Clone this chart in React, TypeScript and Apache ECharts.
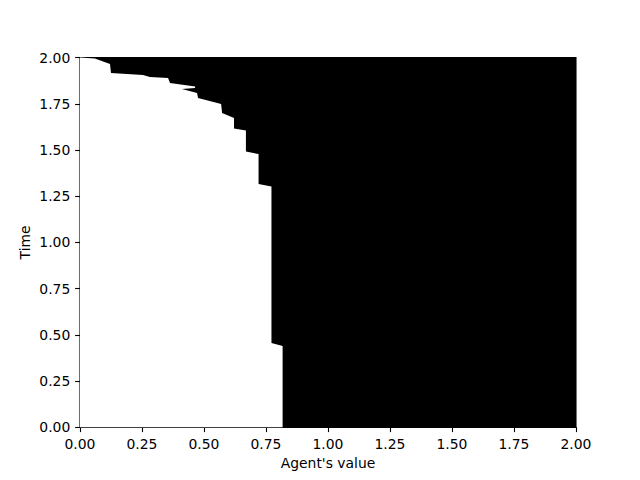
import React, { useEffect, useRef } from "react";
import * as echarts from "echarts";

// Boundary of the white region: agent's value threshold (x) against time (y)
const boundaryValue = [
  0.0, 0.06, 0.121, 0.125, 0.254, 0.282, 0.355, 0.363, 0.464, 0.464, 0.411,
  0.472, 0.476, 0.569, 0.573, 0.621, 0.621, 0.669, 0.669, 0.72, 0.72, 0.772,
  0.772, 0.817, 0.817, 0.0,
];
const boundaryTime = [
  2.0, 1.995, 1.965, 1.917, 1.906, 1.895, 1.89, 1.862, 1.844, 1.835, 1.83,
  1.808, 1.781, 1.749, 1.7, 1.673, 1.616, 1.606, 1.492, 1.478, 1.316, 1.303,
  0.456, 0.439, 0.0, 0.0,
];
const xTicks = [0, 0.25, 0.5, 0.75, 1, 1.25, 1.5, 1.75, 2];
const yTicks = [0, 0.25, 0.5, 0.75, 1, 1.25, 1.5, 1.75, 2];

const FONT = "DejaVu Sans";

export default function App() {
  const ref = useRef<HTMLDivElement>(null);
  useEffect(() => {
    if (!ref.current) return;
    const chart = echarts.init(ref.current, undefined, { renderer: "svg" });
    const pts = boundaryValue.map((v, i) => [v, boundaryTime[i]]);
    const axisCommon = {
      type: "value" as const,
      interval: 0.25,
      splitLine: { show: false },
      axisLine: { show: true, lineStyle: { color: "#000", width: 1.1 } },
      axisTick: { show: true, inside: false, length: 4.9, lineStyle: { color: "#000", width: 1.1 } },
      axisLabel: {
        color: "#000",
        fontFamily: FONT,
        fontSize: 13.9,
        margin: 9.7,
        formatter: (v: number) => v.toFixed(2),
      },
      nameLocation: "middle" as const,
      nameMoveOverlap: false,
      nameTextStyle: { color: "#000", fontFamily: FONT, fontSize: 13.9 },
    };
    chart.setOption({
      animation: false,
      backgroundColor: "#fff",
      grid: {
        left: 80,
        right: 64,
        top: 57.6,
        bottom: 52.8,
        show: true,
        backgroundColor: "#000",
        borderColor: "#000",
        borderWidth: 1.1,
      },
      xAxis: {
        ...axisCommon,
        min: xTicks[0],
        max: xTicks[xTicks.length - 1],
        name: "Agent's value",
        nameGap: 29,
      },
      yAxis: {
        ...axisCommon,
        min: yTicks[0],
        max: yTicks[yTicks.length - 1],
        name: "Time",
        nameGap: 48,
      },
      series: [
        {
          type: "custom",
          coordinateSystem: "cartesian2d",
          data: [[0, 0]],
          renderItem: (_params: any, api: any) => {
            const points = pts.map((p) => api.coord(p));
            return {
              type: "polygon",
              shape: { points },
              style: { fill: "#fff", stroke: null },
            };
          },
        },
      ],
    });
    return () => chart.dispose();
  }, []);
  return (
    <div
      ref={ref}
      style={{ position: "fixed", left: 0, top: 0, width: 640, height: 480 }}
    />
  );
}
